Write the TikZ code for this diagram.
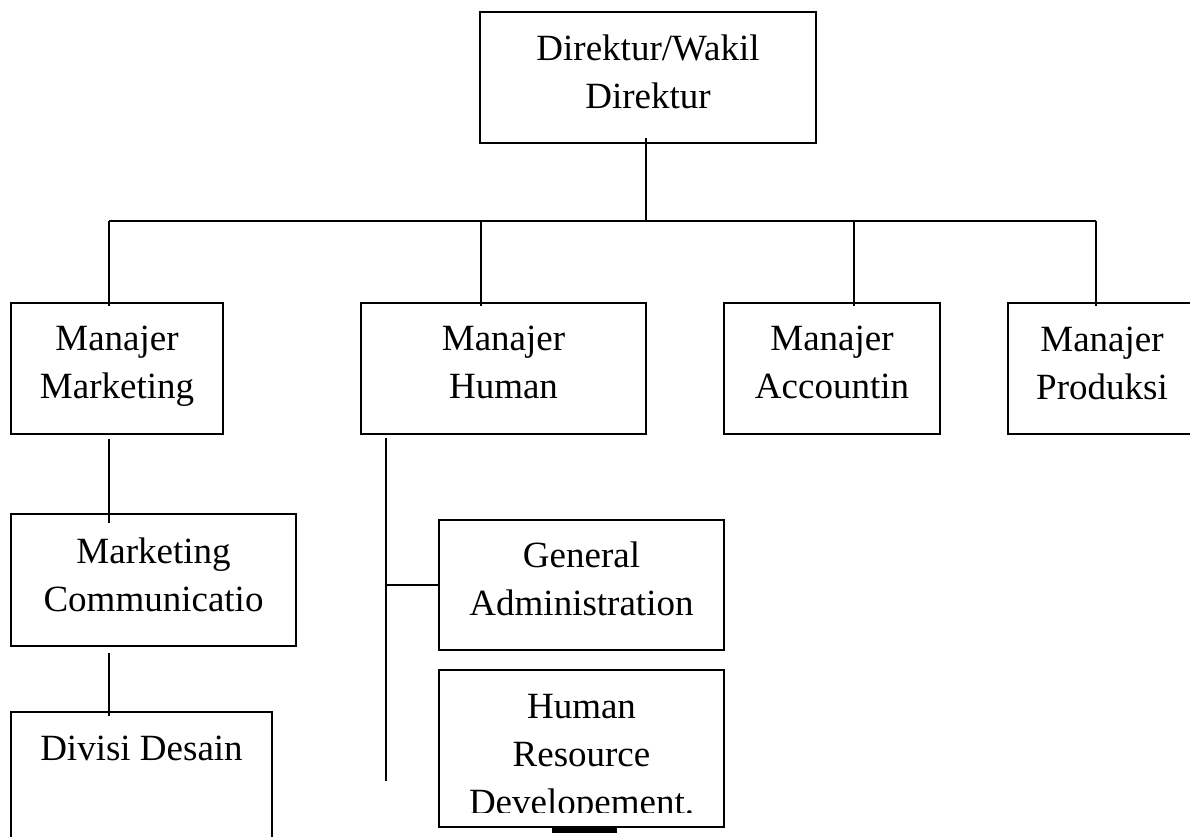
\documentclass[tikz,border=0pt]{standalone}
\usepackage{fontspec}
\setmainfont{Liberation Serif}
\newcommand{\twol}[2]{\begin{tabular}[t]{@{}c@{}}#1\\#2\end{tabular}}
\newcommand{\threel}[3]{\begin{tabular}[t]{@{}c@{}}#1\\#2\\#3\end{tabular}}
\begin{document}
\begin{tikzpicture}[x=1pt,y=-1pt,
  box/.style={draw=black,line width=2.6pt,inner sep=0pt,fill=none},
  txt/.style={inner sep=0pt,anchor=base,font=\fontsize{37}{48}\selectfont},
  conn/.style={draw=black,line width=2.4pt}]
\useasboundingbox (0,0) rectangle (1190,836);
\clip (0,0) rectangle (1190,836);
% boxes
\node[box,minimum width=336pt,minimum height=131pt] (dir) at (648,77.5) {};
\node[box,minimum width=212pt,minimum height=131pt] (mm) at (117,368.5) {};
\node[box,minimum width=285pt,minimum height=131pt] (mh) at (503.5,368.5) {};
\node[box,minimum width=216pt,minimum height=131pt] (ma) at (832,368.5) {};
\node[box,minimum width=188pt,minimum height=131pt] (mp) at (1102,368.5) {};
\node[box,minimum width=285pt,minimum height=132pt] (mc) at (153.5,580) {};
\node[box,minimum width=261pt,minimum height=150pt] (dd) at (141.5,787) {};
\node[box,minimum width=285pt,minimum height=130pt] (ga) at (581.5,585) {};
\node[box,minimum width=285pt,minimum height=157pt] (hr) at (581.5,748.5) {};
% texts
\node[txt] (dirt) at (648,60) {\twol{Direktur/Wakil}{Direktur}};
\node[txt] (mmt) at (117,350) {\twol{Manajer}{Marketing}};
\node[txt] (mht) at (503.5,350) {\twol{Manajer}{Human}};
\node[txt] (mat) at (832,350) {\twol{Manajer}{Accountin}};
\node[txt] (mpt) at (1102,351) {\twol{Manajer}{Produksi}};
\node[txt] (mct) at (153.5,563) {\twol{Marketing}{Communicatio}};
\node[txt] (ddt) at (141.5,760) {Divisi Desain};
\node[txt] (gat) at (581.5,567) {\twol{General}{Administration}};
\begin{scope}
\clip (440,672) rectangle (723,812);
\node[txt] (hrt) at (581.5,718) {\threel{Human}{Resource}{Developement.}};
\end{scope}
% connectors
\coordinate (busL) at (109,221);
\coordinate (busR) at (1096,221);
\coordinate (dj) at (646,221);
\coordinate (hj) at (481,221);
\coordinate (aj) at (854,221);
\coordinate (hx) at (386,438);
\coordinate (hend) at (386,781);
\draw[conn] (busL) -- (busR);
\draw[conn] ([shift={(-2,-6)}]dir.south) -- (dj);
\draw[conn] (busL) -- ([yshift=-4pt]busL |- mm.north);
\draw[conn] (hj) -- ([yshift=-4pt]hj |- mh.north);
\draw[conn] (aj) -- ([yshift=-4pt]aj |- ma.north);
\draw[conn] (busR) -- ([yshift=-4pt]busR |- mp.north);
\draw[conn] ([yshift=-4pt]busL |- mm.south) -- ([yshift=-10pt]busL |- mc.north);
\draw[conn] ([yshift=-6pt]busL |- mc.south) -- ([yshift=-5pt]busL |- dd.north);
\draw[conn] (hx) -- (hend);
\draw[conn] (hx |- ga.west) -- (ga.west);
\fill[black] ([xshift=-29.5pt]hr.south) rectangle ([shift={(35.5,5)}]hr.south);
\end{tikzpicture}
\end{document}
